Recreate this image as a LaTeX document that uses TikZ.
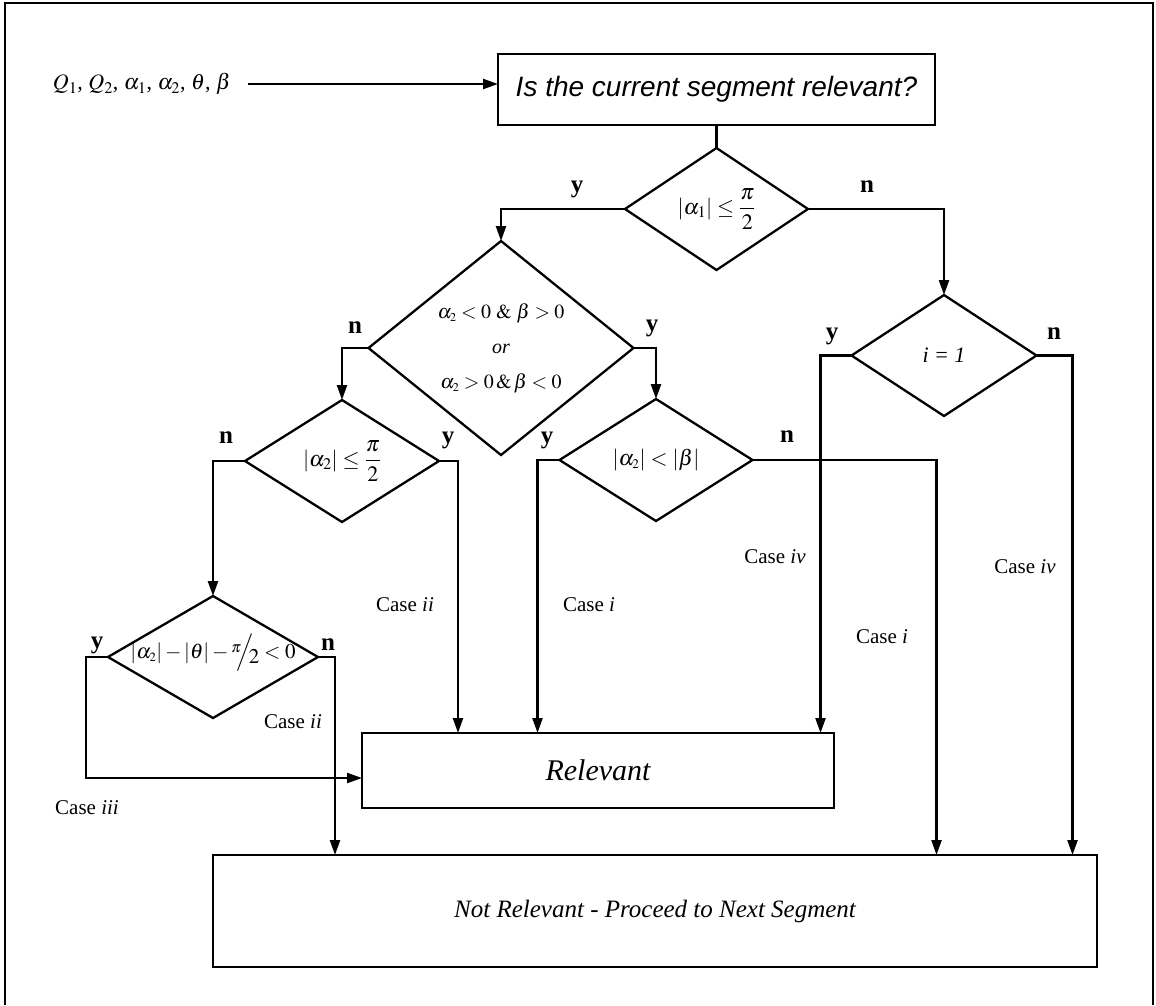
\documentclass[tikz,border=0pt]{standalone}
\usepackage{mathptmx}
\usepackage{fontspec}
\setmainfont{Liberation Serif}
\newfontfamily\arialfont{Liberation Sans}
\usetikzlibrary{arrows.meta,shapes.geometric}
\begin{document}
\begin{tikzpicture}[x=1pt,y=-1pt,
  box/.style={draw, line width=2.3pt, inner sep=0pt, outer sep=0pt},
  dia/.style={draw, diamond, line width=2.3pt, inner sep=0pt, outer sep=0pt},
  ln/.style={line width=2.3pt},
  arr/.style={ln, -{Triangle[length=15pt,width=10pt]}},
  yn/.style={font=\fontsize{25}{27}\selectfont\bfseries, inner sep=0pt},
  case/.style={font=\fontsize{21}{24}\selectfont, inner sep=0pt},
  mth/.style={inner sep=0pt, font=\fontsize{22}{26}\selectfont}]

\useasboundingbox (0,0) rectangle (1156,1005);
\draw[line width=2.4pt] (5,1005) -- (5,3) -- (1153,3) -- (1153,1005);

% boxes
\node[box, minimum width=437pt, minimum height=71pt, font=\arialfont\itshape\fontsize{28}{32}\selectfont] (top) at (716.5,89.5) {Is the current segment relevant?};
\node[inner sep=0pt, anchor=east, font=\fontsize{22}{26}\selectfont] (in) at (231,84) {$Q_1$, $Q_2$, $\alpha_1$, $\alpha_2$, $\theta$, $\beta$};
\node[box, minimum width=472pt, minimum height=75pt, font=\itshape\fontsize{30}{33}\selectfont] (rel) at (598,770.5) {Relevant};
\node[box, minimum width=884pt, minimum height=112pt, font=\itshape\fontsize{25}{30}\selectfont] (nr) at (655,911) {Not Relevant - Proceed to Next Segment};

% diamonds
\node[dia, minimum width=183pt, minimum height=122pt] (d1) at (716.5,209) {};
\node[mth] (t1) at (d1) {$\displaystyle |\alpha_1|\le\frac{\pi}{2}$};
\node[dia, minimum width=265pt, minimum height=214pt] (d2) at (501,348) {};
\node[inner sep=0pt, align=center, font=\fontsize{20}{35}\selectfont] (t2) at (d2) {$\alpha_{\scriptscriptstyle 2}<0\ \&\ \beta>0$\\ \textit{or}\\ $\alpha_{\scriptscriptstyle 2}>0\,\&\,\beta<0$};
\node[dia, minimum width=194pt, minimum height=122pt] (d3) at (342,461) {};
\node[mth] (t3) at (d3) {$\displaystyle |\alpha_2|\le\frac{\pi}{2}$};
\node[dia, minimum width=193pt, minimum height=122pt] (d4) at (656,460) {};
\node[mth] (t4) at (d4) {$|\alpha_{\scriptscriptstyle 2}|<|\beta|$};
\node[dia, minimum width=210pt, minimum height=122pt] (d5) at (213,657) {};
\node[inner sep=0pt, font=\fontsize{21}{24}\selectfont] (t5) at ([yshift=4pt]d5.center) {$|\alpha_{\scriptscriptstyle 2}|-|\theta|-\raisebox{0.6ex}{$\scriptstyle\pi$}\!\!\Big/\!\!\raisebox{-0.5ex}{$2$}<0$};
\node[dia, minimum width=185pt, minimum height=121pt] (d6) at (944,355.5) {};
\node[mth] (t6) at (d6) {\textit{i = 1}};

% connectors
\draw[arr] ([xshift=17pt]in.east) -- (in.east -| top.west);
\draw[ln] (top.south) -- (d1.north);
\draw[arr] (d1.west) -| (d2.north);
\draw[arr] (d1.east) -| (d6.north);
\draw[arr] (d2.west) -| (d3.north);
\draw[arr] (d2.east) -| (d4.north);
\draw[arr] (d3.west) -| (d5.north);
\draw[arr] (d3.east) -- ++(19,0) coordinate (c3) -- (c3 |- rel.north);
\draw[arr] (d4.west) -- ++(-22,0) coordinate (c4) -- (c4 |- rel.north);
\draw[arr] (d4.east) -- ++(184,0) coordinate (c4b) -- (c4b |- nr.north);
\draw[arr] (d6.west) -- ++(-31,0) coordinate (c6) -- (c6 |- rel.north);
\draw[arr] (d6.east) -- ++(36,0) coordinate (c6b) -- (c6b |- nr.north);
\draw[arr] (d5.west) -- ++(-22,0) coordinate (c5) -- (c5 |- 0,778) -- (rel.west |- 0,778);
\draw[arr] (d5.east) -- ++(17,0) coordinate (c5b) -- (c5b |- nr.north);

% y / n labels
\node[yn] (y1) at (577,189) {y};
\node[yn] (n1) at (867,187) {n};
\node[yn] (n2) at (355,328) {n};
\node[yn] (y2) at (652,328) {y};
\node[yn] (n3) at (226,438) {n};
\node[yn] (y3) at (448,440) {y};
\node[yn] (y4) at (547,440) {y};
\node[yn] (n4) at (787,437) {n};
\node[yn] (y6) at (832,336) {y};
\node[yn] (n6) at (1054,334) {n};
\node[yn] (y5) at (97,645) {y};
\node[yn] (n5) at (328,645) {n};

% case labels
\node[case] (k1) at (405,605) {Case \textit{ii}};
\node[case] (k2) at (589,605) {Case \textit{i}};
\node[case] (k3) at (775,557) {Case \textit{iv}};
\node[case] (k4) at (882,637) {Case \textit{i}};
\node[case] (k5) at (1025,567) {Case \textit{iv}};
\node[case] (k6) at (293,722) {Case \textit{ii}};
\node[case] (k7) at (87,808) {Case \textit{iii}};
\end{tikzpicture}
\end{document}
